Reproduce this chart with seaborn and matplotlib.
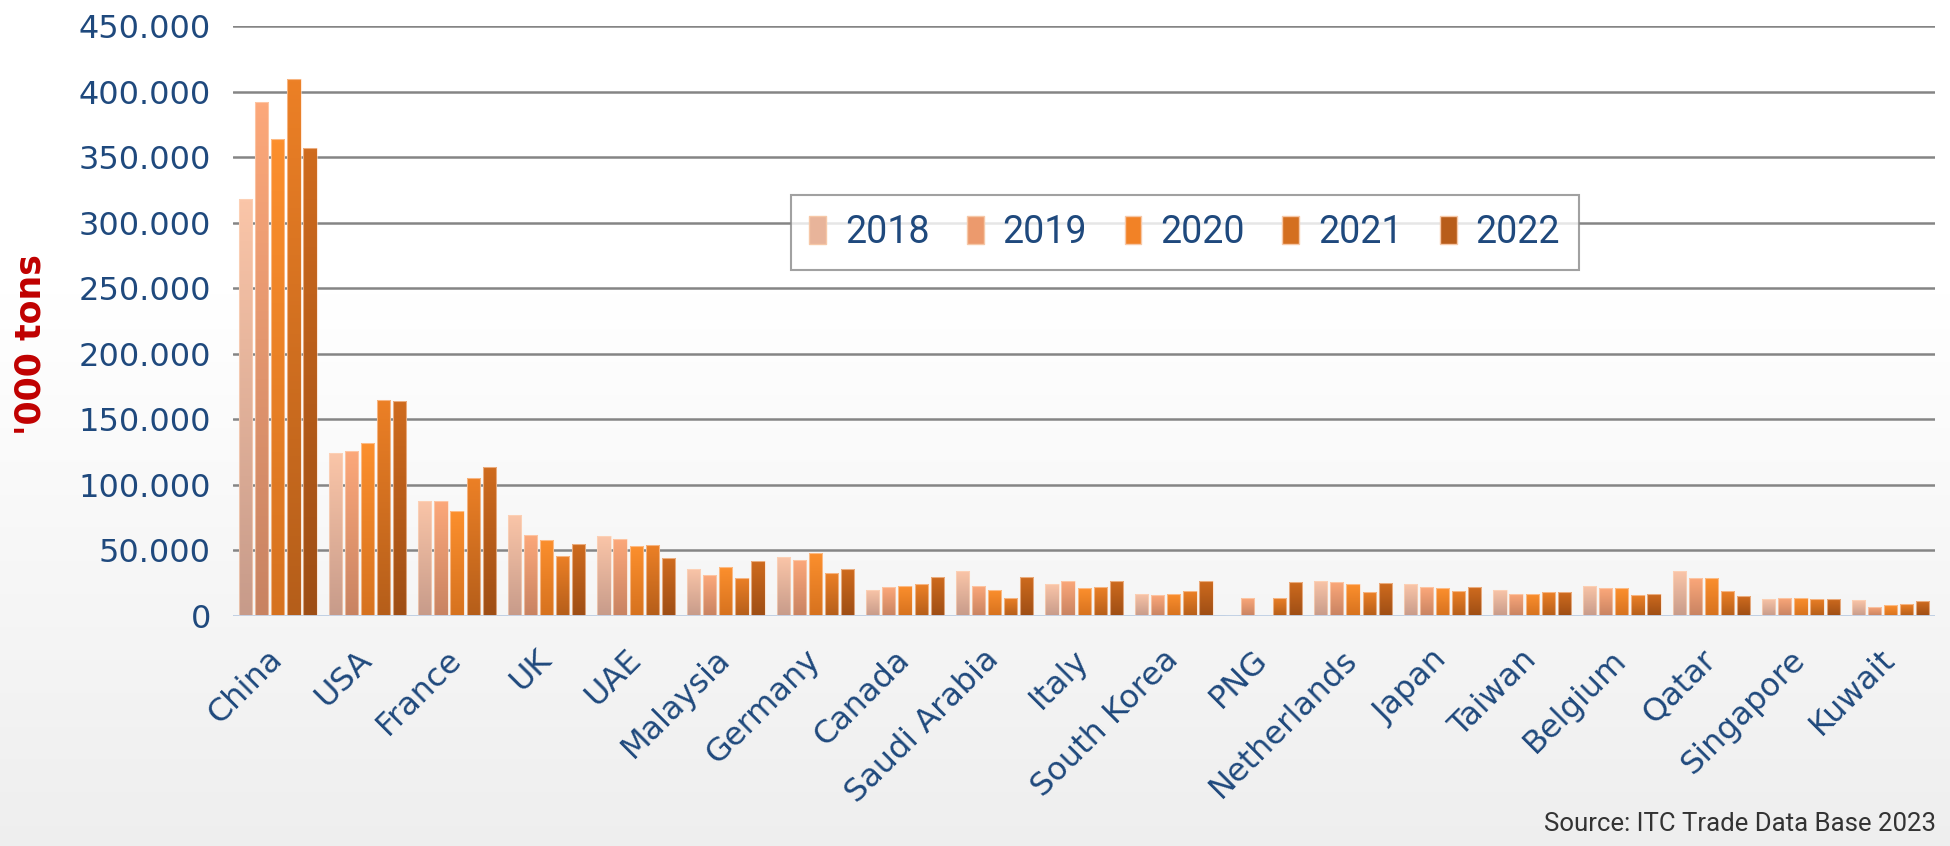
import numpy as np
import pandas as pd
import matplotlib.pyplot as plt
import seaborn as sns
from matplotlib.colors import LinearSegmentedColormap, to_rgb
from matplotlib.ticker import FuncFormatter

# values in '000 tons
countries = ['China', 'USA', 'France', 'UK', 'UAE', 'Malaysia', 'Germany', 'Canada',
             'Saudi Arabia', 'Italy', 'South Korea', 'PNG', 'Netherlands', 'Japan',
             'Taiwan', 'Belgium', 'Qatar', 'Singapore', 'Kuwait']
years = ['2018', '2019', '2020', '2021', '2022']
v2018 = [318, 124, 88, 77, 61, 36, 45, 20, 34, 24, 17, 0, 27, 24, 20, 23, 34, 13, 12]
v2019 = [392, 126, 88, 62, 59, 31, 43, 22, 23, 27, 16, 14, 26, 22, 17, 21, 29, 14, 7]
v2020 = [364, 132, 80, 58, 53, 37, 48, 23, 20, 21, 17, 0, 24, 21, 17, 21, 29, 14, 8]
v2021 = [410, 165, 105, 46, 54, 29, 33, 24, 14, 22, 19, 14, 18, 19, 18, 16, 19, 13, 9]
v2022 = [357, 164, 114, 55, 44, 42, 36, 30, 30, 27, 27, 26, 25, 22, 18, 17, 15, 13, 11]

# gradient colours per year (top, bottom)
top_cols = ['#fac5a8', '#fca87a', '#fc8f2d', '#ec8026', '#cf6b1e']
bot_cols = ['#c79b8a', '#c88362', '#d6721f', '#b55e1a', '#9e4e15']
mid_cols = ['#e8b49a', '#ec9a6d', '#f28226', '#d46f20', '#b85d1a']

df = pd.DataFrame({
    'Country': countries * 5,
    'Year': [y for y in years for _ in countries],
    'Value': v2018 + v2019 + v2020 + v2021 + v2022,
})

sns.set_style('white')
blue = '#1F497D'

fig = plt.figure(figsize=(19.5, 8.46), dpi=100)
fig.patch.set_facecolor('white')

# soft white-to-grey background
bg = fig.add_axes([0, 0, 1, 1], zorder=-10)
t = np.linspace(0, 1, 300)
shade = np.clip((t - 0.35) / 0.65, 0, 1)
rows = 1 - shade * (1 - 0.935)
bg.imshow(np.dstack([rows, rows, rows]).reshape(-1, 1, 3), aspect='auto',
          extent=[0, 1, 0, 1], origin='upper')
bg.axis('off')

ax = fig.add_axes([0.1195, 0.272, 0.873, 0.697])
ax.set_facecolor('none')

sns.barplot(data=df, x='Country', y='Value', hue='Year', palette=mid_cols,
            width=0.9, gap=0.18, ax=ax, zorder=3)

# gradient fill on each bar
for cont, top, bot in zip(ax.containers, top_cols, bot_cols):
    cmap = LinearSegmentedColormap.from_list('g', [to_rgb(bot), to_rgb(top)])
    for bar in cont:
        h = bar.get_height()
        if not h or np.isnan(h) or h <= 0:
            continue
        x0 = bar.get_x()
        w = bar.get_width()
        bar.set_facecolor('none')
        bar.set_edgecolor((1, 0.85, 0.75, 0.6))
        bar.set_linewidth(0.8)
        im = ax.imshow(np.linspace(0, 1, 128).reshape(-1, 1), cmap=cmap, aspect='auto',
                       extent=[x0, x0 + w, 0, h], origin='lower', zorder=2.5)
        im.set_clip_path(bar)

ax.set_ylim(0, 450)
ax.set_xlim(-0.5, len(countries) - 0.5)

ax.set_yticks(range(0, 451, 50))
ax.yaxis.set_major_formatter(FuncFormatter(lambda v, p: '0' if v == 0 else f'{v:.0f}.000'))
ax.grid(axis='y', color='#858585', linewidth=1.8, zorder=1)
ax.axhline(0, color='#c6d6ec', linewidth=2, zorder=4)
for s in ax.spines.values():
    s.set_visible(False)

ax.tick_params(axis='y', length=0, pad=16, labelsize=23, labelcolor=blue)
ax.tick_params(axis='x', length=0, pad=28, labelsize=23, labelcolor=blue)
plt.setp(ax.get_xticklabels(), rotation=45, ha='right', va='center', rotation_mode='anchor')

ax.set_xlabel('')
ax.set_ylabel("'000 tons", color='#C00000', fontsize=25, fontweight='bold')
ax.yaxis.set_label_coords(-0.109, 0.46)

handles, labels = ax.get_legend_handles_labels()
for hd, c in zip(handles, mid_cols):
    hd.set_facecolor(c)
    hd.set_edgecolor('#f6c8a8')
leg = ax.legend(handles, years, loc='center', bbox_to_anchor=(0.559, 0.65), ncol=5,
                frameon=True, fancybox=False, handlelength=0.45, handleheight=0.75,
                handletextpad=0.5, columnspacing=1.0, borderpad=0.5,
                prop={'family': ['Roboto', 'DejaVu Sans'], 'size': 27})
leg.get_frame().set_edgecolor('#8a8a8a')
leg.get_frame().set_linewidth(1.5)
for txt in leg.get_texts():
    txt.set_color(blue)

fig.text(0.993, 0.012, 'Source: ITC Trade Data Base 2023', ha='right', va='bottom',
         fontsize=18.5, color='#333333', family=['Roboto', 'DejaVu Sans'])

plt.savefig('out.png', dpi=100)
